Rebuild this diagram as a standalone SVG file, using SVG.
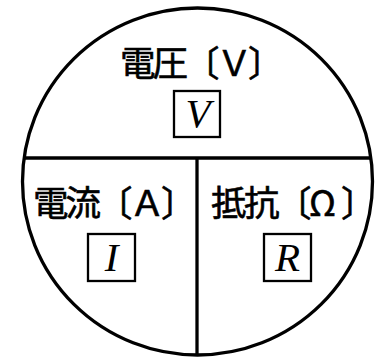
<svg xmlns="http://www.w3.org/2000/svg" width="381" height="360" viewBox="0 0 381 360">
<style>
.ln{fill:none;stroke:#000;stroke-width:3.3}
.bx{fill:#fff;stroke:#000;stroke-width:2.3}
.jp{font-family:"Noto Sans CJK JP","Noto Sans CJK SC",sans-serif;font-size:35.5px;fill:#000;stroke:#000;stroke-width:0.6}
.mi{font-family:"Liberation Serif",serif;font-style:italic;font-size:41px;fill:#000;text-anchor:middle}
</style>
<rect width="381" height="360" fill="#fff"/>
<g id="connectors">
<ellipse class="ln" cx="197.5" cy="181.5" rx="175" ry="173.5"/>
<line class="ln" x1="24" y1="158" x2="371" y2="158"/>
<line class="ln" x1="197" y1="158" x2="197" y2="355"/>
</g>
<g id="voltage">
<text class="jp" x="120 152.5 184 216.5 248" y="75.5">電圧〔Ｖ〕</text>
<rect class="bx" x="174" y="91" width="46" height="46"/>
<text class="mi" x="198" y="127">V</text>
</g>
<g id="current">
<text class="jp" x="33 65.5 97 129.5 161" y="215.5">電流〔Ａ〕</text>
<rect class="bx" x="88" y="234" width="47" height="47"/>
<text class="mi" x="111.5" y="271">I</text>
</g>
<g id="resistance">
<text class="jp" x="211 244 276 309 341" y="215.5">抵抗〔Ω〕</text>
<rect class="bx" x="264" y="234" width="47" height="47"/>
<text class="mi" x="287.5" y="271">R</text>
</g>
</svg>
